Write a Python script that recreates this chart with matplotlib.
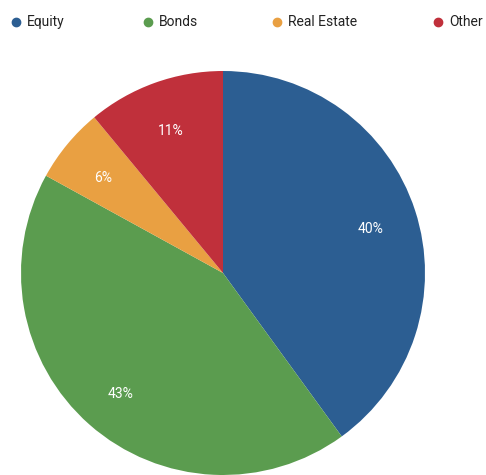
import matplotlib.pyplot as plt
from matplotlib.transforms import ScaledTranslation

labels = ['Equity', 'Bonds', 'Real Estate', 'Other']
shares = [40, 43, 6, 11]
colors = ['#2c5e92', '#5b9c4f', '#e9a042', '#c0303b']
legend_x = [16, 148, 277, 438]  # marker positions in px

plt.rcParams['font.family'] = ['Roboto', 'DejaVu Sans']

W, H = 486, 475
fig = plt.figure(figsize=(W / 100, H / 100), dpi=100)
# pie centre at (223, 273) px, radius ~202 px
ax = fig.add_axes([21 / W, 0, 404 / W, 404 / H])

wedges, texts = ax.pie(shares, colors=colors, startangle=90, counterclock=False,
                       labels=[f'{s}%' for s in shares], labeldistance=0.77,
                       wedgeprops={'linewidth': 0})
shift = ScaledTranslation(0, -3 / 100, fig.dpi_scale_trans)
for t in texts:
    t.set_color('white')
    t.set_fontsize(10)
    t.set_ha('center')
    t.set_va('center_baseline')
    t.set_transform(t.get_transform() + shift)
ax.set_xlim(-1, 1)
ax.set_ylim(-1, 1)
ax.set_aspect('equal')
for w in wedges:
    w.set_clip_on(False)

# legend row along the top
ly = 1 - 22 / H
for x, lab, c in zip(legend_x, labels, colors):
    fig.lines.append(plt.Line2D([x / W], [ly], marker='o', markersize=6, color=c,
                                linestyle='', transform=fig.transFigure))
    fig.text((x + 11) / W, ly, lab, ha='left', va='center', fontsize=10, color='#222222')

fig.savefig('out.png', dpi=100)
